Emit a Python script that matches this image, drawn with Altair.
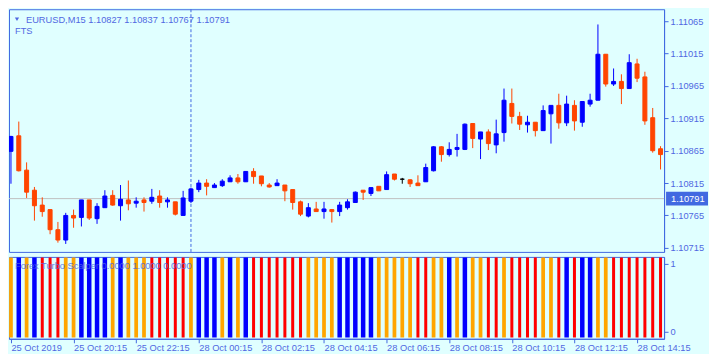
import json
import altair as alt
import pandas as pd

# ---------------- data ----------------
opens = [1.10864, 1.10888, 1.10835, 1.10804, 1.10781, 1.10774, 1.10743, 1.10727, 1.10765, 1.10762,
         1.10789, 1.10760, 1.10777, 1.10796, 1.10780, 1.10789, 1.10784, 1.10789, 1.10787, 1.10795,
         1.10786, 1.10786, 1.10765, 1.10787, 1.10805, 1.10815, 1.10808, 1.10811, 1.10817, 1.10823,
         1.10817, 1.10833, 1.10826, 1.10812, 1.10811, 1.10812, 1.10805, 1.10786, 1.10764, 1.10775,
         1.10771, 1.10774, 1.10771, 1.10777, 1.10785, 1.10804, 1.10799, 1.10810, 1.10805, 1.10829,
         1.10821, 1.10820, 1.10815, 1.10817, 1.10834, 1.10871, 1.10859, 1.10867, 1.10867, 1.10907,
         1.10883, 1.10894, 1.10874, 1.10893, 1.10938, 1.10918, 1.10905, 1.10909, 1.10896, 1.10922,
         1.10935, 1.10908, 1.10935, 1.10909, 1.10937, 1.10943, 1.11014, 1.10968, 1.10972, 1.10961,
         1.10999, 1.10979, 1.10916, 1.10868]
highs = [1.10888, 1.10910, 1.10847, 1.10809, 1.10793, 1.10774, 1.10755, 1.10769, 1.10774, 1.10789,
         1.10789, 1.10784, 1.10804, 1.10804, 1.10812, 1.10819, 1.10793, 1.10793, 1.10806, 1.10804,
         1.10793, 1.10786, 1.10803, 1.10808, 1.10820, 1.10821, 1.10815, 1.10821, 1.10827, 1.10829,
         1.10833, 1.10838, 1.10826, 1.10815, 1.10821, 1.10812, 1.10805, 1.10788, 1.10784, 1.10786,
         1.10786, 1.10775, 1.10786, 1.10790, 1.10802, 1.10804, 1.10808, 1.10810, 1.10833, 1.10829,
         1.10823, 1.10821, 1.10827, 1.10845, 1.10872, 1.10872, 1.10878, 1.10891, 1.10907, 1.10907,
         1.10894, 1.10898, 1.10913, 1.10961, 1.10961, 1.10925, 1.10919, 1.10909, 1.10935, 1.10935,
         1.10953, 1.10950, 1.10943, 1.10941, 1.10953, 1.11060, 1.11014, 1.10992, 1.10983, 1.11014,
         1.11007, 1.10987, 1.10931, 1.10872]
lows = [1.10814, 1.10833, 1.10792, 1.10757, 1.10763, 1.10736, 1.10723, 1.10721, 1.10746, 1.10748,
        1.10758, 1.10752, 1.10777, 1.10780, 1.10757, 1.10773, 1.10777, 1.10771, 1.10783, 1.10777,
        1.10777, 1.10765, 1.10765, 1.10784, 1.10801, 1.10796, 1.10808, 1.10809, 1.10817, 1.10814,
        1.10817, 1.10814, 1.10810, 1.10808, 1.10811, 1.10787, 1.10774, 1.10764, 1.10762, 1.10771,
        1.10760, 1.10754, 1.10764, 1.10774, 1.10785, 1.10789, 1.10795, 1.10803, 1.10805, 1.10819,
        1.10814, 1.10809, 1.10811, 1.10817, 1.10833, 1.10848, 1.10856, 1.10856, 1.10866, 1.10869,
        1.10852, 1.10866, 1.10861, 1.10879, 1.10907, 1.10897, 1.10893, 1.10887, 1.10896, 1.10876,
        1.10899, 1.10903, 1.10896, 1.10902, 1.10933, 1.10943, 1.10964, 1.10965, 1.10937, 1.10961,
        1.10971, 1.10905, 1.10862, 1.10836]
closes = [1.10887, 1.10834, 1.10801, 1.10780, 1.10771, 1.10743, 1.10727, 1.10765, 1.10761, 1.10789,
          1.10761, 1.10779, 1.10795, 1.10781, 1.10790, 1.10783, 1.10787, 1.10785, 1.10793, 1.10785,
          1.10789, 1.10767, 1.10792, 1.10806, 1.10815, 1.10810, 1.10812, 1.10818, 1.10823, 1.10817,
          1.10833, 1.10825, 1.10814, 1.10809, 1.10815, 1.10803, 1.10785, 1.10767, 1.10777, 1.10771,
          1.10775, 1.10771, 1.10781, 1.10786, 1.10801, 1.10801, 1.10808, 1.10803, 1.10828, 1.10821,
          1.10821, 1.10814, 1.10811, 1.10839, 1.10871, 1.10859, 1.10867, 1.10870, 1.10906, 1.10884,
          1.10894, 1.10876, 1.10891, 1.10943, 1.10918, 1.10906, 1.10909, 1.10896, 1.10927, 1.10935,
          1.10908, 1.10937, 1.10911, 1.10941, 1.10943, 1.11014, 1.10968, 1.10972, 1.10961, 1.11001,
          1.10977, 1.10911, 1.10865, 1.10859]

# indicator histogram colour per bar (b = blue, o = orange, r = red)
ind_codes = ("obobrrroob" + "bbbobooorr" + "rrrobbbobo" + "brrrrrrroo" +
             "oobbbbbooo" + "oorroobobo" + "orrorrrroo" + "rbrbboorrr" + "rrrr")

time_labels = ["25 Oct 2019", "25 Oct 20:15", "25 Oct 22:15", "28 Oct 00:15", "28 Oct 02:15",
               "28 Oct 04:15", "28 Oct 06:15", "28 Oct 08:15", "28 Oct 10:15", "28 Oct 12:15",
               "28 Oct 14:15"]
tick_bars = [0, 8, 16, 24, 32, 40, 48, 56, 64, 72, 80]
price_ticks = [1.10715, 1.10765, 1.10815, 1.10865, 1.10915, 1.10965, 1.11015, 1.11065]
bid_price = 1.10791
symbol = "EURUSD,M15"
header_ohlc = [1.10827, 1.10837, 1.10767, 1.10791]
indicator_name = "Forex Turbo Scalper"
indicator_values = [0.0, 1.0, 0.0]
separator_bar = 23
price_range = [1.107087, 1.110835]
ind_range = [-0.1, 1.1]
ind_bar = [-0.08, 1.09]

# ---------------- style ----------------
FONT = "Liberation Sans"
FS = 9.3
TXT = "#5068E2"
AX = "#4169E1"
BG = "#E0FFFF"
W = 656
H_MAIN = 243
H_IND = 82
BOX_W = 42

n = len(opens)
dirs = ["up" if c > o else ("down" if c < o else "doji") for o, c in zip(opens, closes)]
df = pd.DataFrame(dict(k=list(range(n)), open=opens, high=highs, low=lows, close=closes, dir=dirs))
cmap = {"b": "blue", "o": "orange", "r": "red"}
ind_df = pd.DataFrame(dict(k=list(range(n)), c=[cmap[ch] for ch in ind_codes],
                           lo=[ind_bar[0]] * n, hi=[ind_bar[1]] * n))

xs = alt.Scale(domain=[-0.25, 83.45], nice=False, zero=False, padding=0)
ys = alt.Scale(domain=price_range, nice=False, zero=False, padding=0)
dir_scale = alt.Scale(domain=["up", "down", "doji"], range=["#0000FF", "#FF4500", "#000000"])

yax = alt.Axis(orient="right", values=price_ticks, format=".5f", tickSize=4, labelPadding=2,
               title=None, grid=False)
X = alt.X("k:Q", scale=xs, axis=None)

bid_df = pd.DataFrame({"p": [bid_price], "t": [f"{bid_price:.5f}"]})
bid_line = alt.Chart(bid_df).mark_rule(color="#C0C0C0", strokeWidth=1).encode(
    y=alt.Y("p:Q", scale=ys, axis=yax))
sep = alt.Chart(pd.DataFrame({"k": [separator_bar]})).mark_rule(
    color=AX, strokeDash=[3, 2], strokeWidth=1).encode(x=X)

base = alt.Chart(df)
wicks = base.mark_rule(strokeWidth=1, clip=True).encode(
    x=X, y=alt.Y("low:Q", scale=ys, axis=yax), y2="high:Q",
    color=alt.Color("dir:N", scale=dir_scale, legend=None))
bodies = base.mark_bar(size=4, strokeWidth=1, clip=True).encode(
    x=X, y=alt.Y("open:Q", scale=ys, axis=yax), y2="close:Q",
    color=alt.Color("dir:N", scale=dir_scale, legend=None),
    stroke=alt.Stroke("dir:N", scale=dir_scale, legend=None))

header = " ".join([symbol + " "] + [f"{v:.5f}" for v in header_ohlc])
hdr = alt.Chart(pd.DataFrame({"t": [header]})).mark_text(
    align="left", baseline="middle", font=FONT, fontSize=FS, color=TXT).encode(
    x=alt.value(17), y=alt.value(11), text="t:N")
tri = alt.Chart(pd.DataFrame({"t": [header]})).mark_point(
    shape="triangle-down", filled=True, size=18, color=TXT, opacity=1).encode(
    x=alt.value(8), y=alt.value(10))
fts = alt.Chart(pd.DataFrame({"t": ["FTS"]})).mark_text(
    align="left", baseline="middle", font=FONT, fontSize=FS, color=TXT).encode(
    x=alt.value(6), y=alt.value(22), text="t:N")
# price label box (custom symbol: 42 x 14 px rectangle)
box = alt.Chart(bid_df).mark_point(
    shape="M-1,-0.333L1,-0.333L1,0.333L-1,0.333Z", filled=True, size=BOX_W * BOX_W,
    color=AX, opacity=1, strokeWidth=0).encode(
    x=alt.value(W + 2 + BOX_W / 2), y=alt.Y("p:Q", scale=ys, axis=yax))
box_txt = alt.Chart(bid_df).mark_text(
    align="left", baseline="middle", font=FONT, fontSize=FS, color="white").encode(
    x=alt.value(W + 7), y=alt.Y("p:Q", scale=ys, axis=yax), text="t:N")

top = alt.layer(bid_line, sep, wicks, bodies, hdr, tri, fts, box, box_txt).properties(
    width=W, height=H_MAIN)

# ---------------- indicator panel ----------------
iys = alt.Scale(domain=ind_range, nice=False, zero=False, padding=0)
iyax = alt.Axis(orient="right", values=[0, 1], format="d", tickSize=4, labelPadding=2,
                title=None, grid=False)
label_expr = json.dumps(dict(zip([str(t) for t in tick_bars], time_labels))) + "[toString(datum.value)]"
ixax = alt.Axis(values=tick_bars, labelExpr=label_expr, tickSize=4, labelPadding=1,
                labelAlign="left", labelBaseline="top", title=None, grid=False, labelFlush=False,
                labelOverlap=False)
ind_scale = alt.Scale(domain=["blue", "orange", "red"], range=["#0000FF", "#FFA500", "#FF0000"])
ibars = alt.Chart(ind_df).mark_bar(clip=True).encode(
    x=alt.X("k:Q", scale=xs, axis=ixax),
    y=alt.Y("lo:Q", scale=iys, axis=iyax), y2="hi:Q",
    color=alt.Color("c:N", scale=ind_scale, legend=None),
    size=alt.Size("c:N", scale=alt.Scale(domain=["blue", "orange", "red"], range=[4.5, 3, 3]),
                  legend=None))
ind_label = indicator_name + " " + " ".join(f"{v:.4f}" for v in indicator_values)
itxt = alt.Chart(pd.DataFrame({"t": [ind_label]})).mark_text(
    align="left", baseline="middle", font=FONT, fontSize=FS, color=TXT, opacity=0.85).encode(
    x=alt.value(6), y=alt.value(9), text="t:N")
bottom = alt.layer(ibars, itxt).properties(width=W, height=H_IND)

chart = alt.vconcat(top, bottom, spacing=2).resolve_scale(
    color="independent", size="independent", stroke="independent"
).properties(
    background=BG, padding={"left": 0, "top": 0, "right": 0, "bottom": 0}
).configure_view(stroke=AX, strokeWidth=1, fill=BG).configure_axis(
    domainColor=AX, tickColor=AX, labelColor=TXT, labelFont=FONT, labelFontSize=FS,
    domainWidth=1, tickWidth=1)

chart.save("out.html", embed_options={"renderer": "svg", "actions": False})
